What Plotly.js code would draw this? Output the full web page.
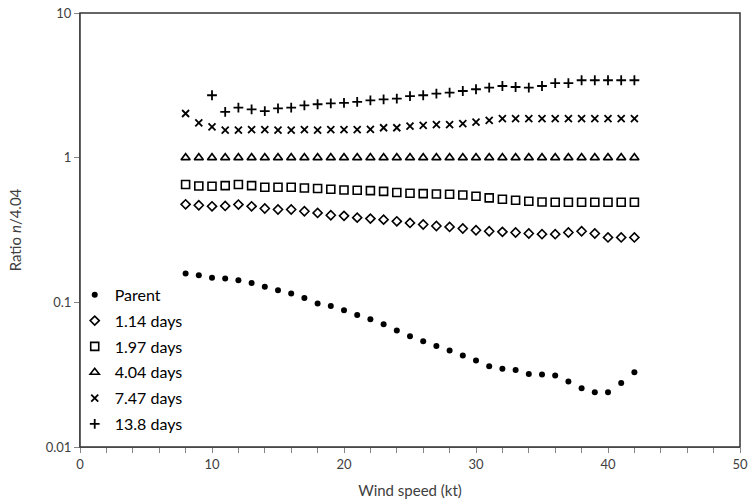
<!DOCTYPE html>
<html>
<head>
<meta charset="utf-8">
<script src="https://cdn.plot.ly/plotly-3.0.1.min.js"></script>
<style>html,body{margin:0;padding:0;background:#fff;}#chart{width:754px;height:503px;}</style>
</head>
<body>
<div id="chart"></div>
<script>
const windSpeed = [8,9,10,11,12,13,14,15,16,17,18,19,20,21,22,23,24,25,26,27,28,29,30,31,32,33,34,35,36,37,38,39,40,41,42];
const parent = [0.158,0.154,0.148,0.146,0.142,0.136,0.128,0.121,0.115,0.107,0.098,0.0944,0.0882,0.0818,0.0764,0.0706,0.0638,0.0583,0.0538,0.0500,0.0464,0.0429,0.0396,0.0362,0.0347,0.0341,0.0320,0.0317,0.0312,0.0284,0.0255,0.0239,0.0239,0.0277,0.0329];
const d114 = [0.476,0.469,0.461,0.464,0.474,0.461,0.445,0.438,0.438,0.426,0.415,0.400,0.396,0.385,0.379,0.373,0.363,0.354,0.345,0.337,0.332,0.324,0.315,0.310,0.307,0.304,0.299,0.296,0.296,0.304,0.310,0.299,0.281,0.281,0.281];
const d197 = [0.652,0.637,0.634,0.641,0.652,0.641,0.624,0.624,0.624,0.617,0.612,0.605,0.598,0.595,0.592,0.585,0.575,0.567,0.564,0.561,0.558,0.552,0.541,0.527,0.516,0.508,0.500,0.494,0.492,0.492,0.492,0.492,0.492,0.492,0.492];
const d404 = [1,1,1,1,1,1,1,1,1,1,1,1,1,1,1,1,1,1,1,1,1,1,1,1,1,1,1,1,1,1,1,1,1,1,1];
const d747 = [2.02,1.74,1.63,1.55,1.55,1.56,1.56,1.55,1.55,1.56,1.55,1.56,1.56,1.56,1.57,1.61,1.61,1.65,1.67,1.69,1.69,1.72,1.76,1.81,1.86,1.86,1.86,1.86,1.86,1.86,1.86,1.86,1.86,1.86,1.86];
const d138 = [null,null,2.70,2.07,2.22,2.16,2.10,2.19,2.22,2.30,2.34,2.37,2.39,2.43,2.49,2.53,2.56,2.66,2.70,2.77,2.82,2.89,2.97,3.05,3.13,3.08,3.05,3.13,3.28,3.28,3.43,3.43,3.43,3.43,3.43];
const seriesNames = ['Parent','1.14 days','1.97 days','4.04 days','7.47 days','13.8 days'];
const xTickVals = [0,10,20,30,40,50];
const yTickVals = [0.01,0.1,1,10];
const yTickText = ['0.01','0.1','1','10'];

const styles = [
  {symbol:'circle', size:6, line:{width:0}, color:'#000'},
  {symbol:'diamond-open', size:7, line:{width:1.6, color:'#000'}, color:'#000'},
  {symbol:'square-open', size:8, line:{width:1.6, color:'#000'}, color:'#000'},
  {symbol:'triangle-up-open', size:8, line:{width:1.6, color:'#000'}, color:'#000'},
  {symbol:'x-thin-open', size:7, line:{width:1.8, color:'#000'}, color:'#000'},
  {symbol:'cross-thin-open', size:7, line:{width:1.8, color:'#000'}, color:'#000'}
];
const ys = [parent,d114,d197,d404,d747,d138];
const traces = ys.map((y,i)=>({
  x: windSpeed, y: y, name: seriesNames[i], type:'scatter', mode:'markers',
  legendgroup: 'g'+i,
  marker: styles[i], cliponaxis:false
}));

const font = "Lato, 'Open Sans', sans-serif";
const layout = {
  width:754, height:503,
  margin:{l:80, r:14, t:13, b:56},
  paper_bgcolor:'#fff', plot_bgcolor:'#fff',
  font:{family:font, color:'#000'},
  showlegend:true,
  legend:{x:-0.008, y:0.014, xanchor:'left', yanchor:'bottom', bgcolor:'rgba(0,0,0,0)',
    font:{family:font, size:16, color:'#000'}, tracegroupgap:2, itemwidth:30},
  xaxis:{range:[0,50], tickvals:xTickVals, ticks:'outside', ticklen:5, tickcolor:'#868686',
    showline:true, linecolor:'#868686', linewidth:1, showgrid:false, zeroline:false,
    minor:{dtick:2, tick0:0, ticks:'outside', ticklen:5, tickcolor:'#868686', showgrid:false},
    tickfont:{family:font, size:13, color:'#404040'},
    title:{text:'Wind speed (kt)', font:{family:font, size:15, color:'#404040'}, standoff:14}},
  yaxis:{type:'log', range:[-2,1], tickvals:yTickVals, ticktext:yTickText, ticks:'outside', ticklen:5, tickcolor:'#868686',
    showline:true, linecolor:'#868686', linewidth:1, showgrid:false, zeroline:false,
    tickfont:{family:font, size:13, color:'#404040'},
    title:{text:'Ratio <i>n</i>/4.04', font:{family:font, size:15, color:'#404040'}, standoff:20}},
  shapes:[{type:'rect', xref:'paper', yref:'paper', x0:0, x1:1, y0:0, y1:1, line:{color:'#333', width:1.5}, fillcolor:'rgba(0,0,0,0)'}]
};
Plotly.newPlot('chart', traces, layout, {displayModeBar:false, staticPlot:true});
</script>
</body>
</html>
